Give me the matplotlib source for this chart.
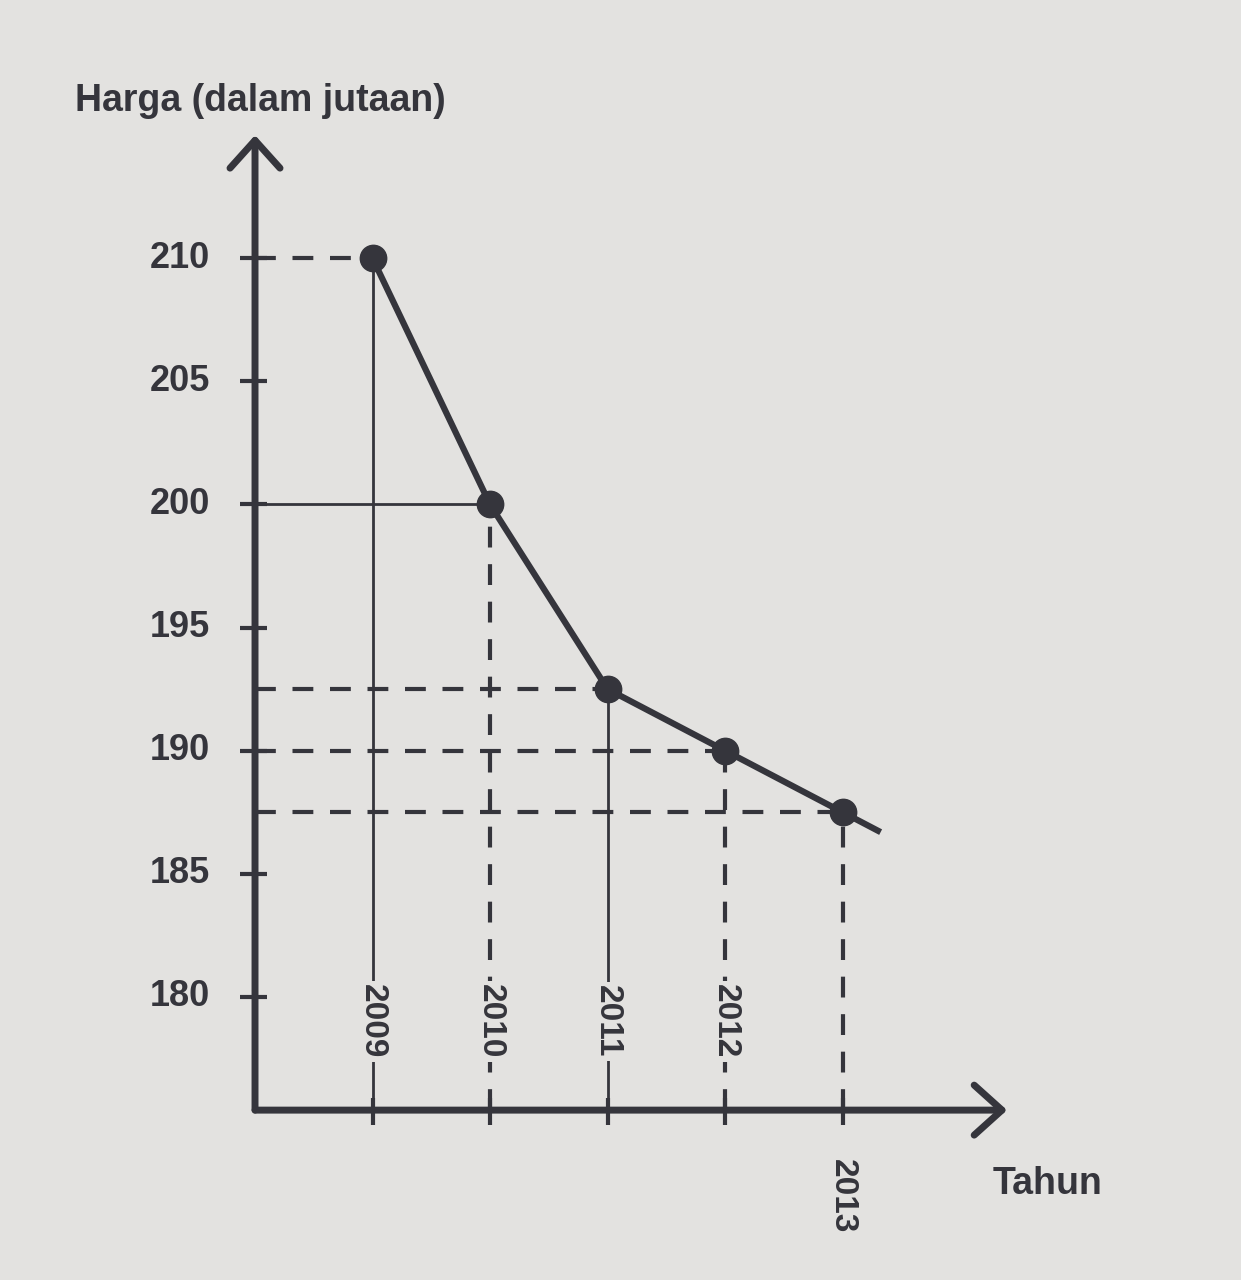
import matplotlib.pyplot as plt

# data
years = [2009, 2010, 2011, 2012, 2013]
harga = [210, 200, 192.5, 190, 187.5]
yticks = [180, 185, 190, 195, 200, 205, 210]
# which guide lines are solid ('-') or dashed ('--')
vert_style = ['-', '--', '-', '--', '--']
horiz_style = ['--', '-', '--', '--', '--']

ink = '#35353c'
bg = '#e3e2e0'
font = ['Liberation Sans', 'DejaVu Sans']

fig = plt.figure(figsize=(12.41, 12.8), dpi=100, facecolor=bg)
ax = fig.add_axes([0, 0, 1, 1])
ax.set_facecolor(bg)
ax.set_xlim(2005.83, 2016.39)
ax.set_ylim(168.5, 220.49)
ax.axis('off')

x0 = 2008.0   # y axis position
y0 = 175.4    # x axis position

# axes with arrows
ax.annotate('', xy=(x0, 215.0), xytext=(x0, y0), zorder=3,
            arrowprops=dict(arrowstyle='->,head_length=0.5,head_width=0.45',
                            lw=5, color=ink, mutation_scale=40, shrinkA=0, shrinkB=0))
ax.annotate('', xy=(2014.4, y0), xytext=(x0, y0), zorder=3,
            arrowprops=dict(arrowstyle='->,head_length=0.5,head_width=0.45',
                            lw=5, color=ink, mutation_scale=40, shrinkA=0, shrinkB=0))

# y ticks
for v in yticks:
    ax.plot([x0 - 0.13, x0 + 0.1], [v, v], color=ink, lw=3, solid_capstyle='butt')
    ax.text(x0 - 0.38, v, str(v), ha='right', va='center', fontsize=26,
            fontweight='bold', color=ink, family=font)

# guide lines
for yr, h, vs, hs in zip(years, harga, vert_style, horiz_style):
    lw = 2 if vs == '-' else 3
    ax.plot([yr, yr], [y0, h], color=ink, lw=lw, ls=vs, dashes=(5, 4) if vs == '--' else (None, None),
            zorder=1)
    lw = 2 if hs == '-' else 3
    ax.plot([x0, yr], [h, h], color=ink, lw=lw, ls=hs, dashes=(5, 4) if hs == '--' else (None, None),
            zorder=1)
    # x tick
    ax.plot([yr, yr], [y0 - 0.6, y0 + 0.5], color=ink, lw=3, solid_capstyle='butt')

# year labels
for i, yr in enumerate(years):
    ypos = 179.0 if i < 4 else 171.9
    ax.text(yr, ypos, str(yr), rotation=-90, ha='center', va='center', fontsize=24,
            fontweight='bold', color=ink, family=font,
            bbox=dict(boxstyle='square,pad=0.1', fc=bg, ec='none'))

# main line, slightly extended past the last point
ext_x = years[-1] + 0.3
ext_y = harga[-1] + 0.3 * (harga[-1] - harga[-2])
ax.plot(years + [ext_x], harga + [ext_y], color=ink, lw=4.5, zorder=4)
ax.plot(years, harga, 'o', color=ink, ms=19, zorder=5)

ax.text(2006.47, 216.4, 'Harga (dalam jutaan)', ha='left', va='center', fontsize=27,
        fontweight='bold', color=ink, family=font)
ax.text(2014.28, 172.4, 'Tahun', ha='left', va='center', fontsize=27,
        fontweight='bold', color=ink, family=font)

fig.savefig('out.png', dpi=100, facecolor=bg)
